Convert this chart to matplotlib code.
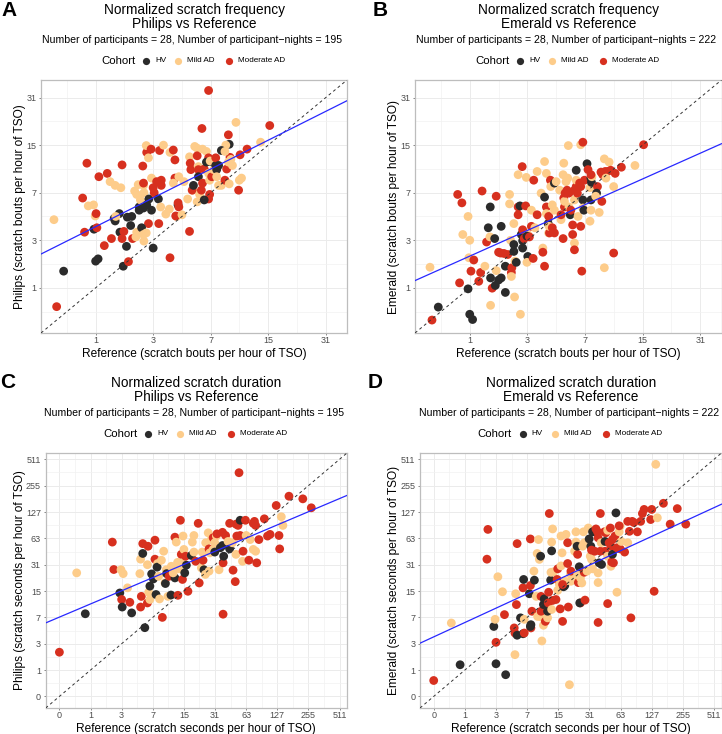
import numpy as np
import matplotlib
matplotlib.use("Agg")
import matplotlib.pyplot as plt
from matplotlib.lines import Line2D

plt.rcParams['font.family'] = ['Liberation Sans', 'DejaVu Sans']

W, H = 722, 734

# cohort codes: H = HV, M = Mild AD, R = Moderate AD
cohort_labels = {'H': 'HV', 'M': 'Mild AD', 'R': 'Moderate AD'}
cohort_colors = {'H': '#2b2b2b', 'M': '#fdcc8a', 'R': '#d7301f'}

# ---- A: scratch bouts per hour, Philips vs Reference ----
a_ref = [6.8, 9.85, 15.3, 6.2, 8.9, 13.6, 9.0, 8.6, 11.4, 8.1,
         9.1, 10.4, 9.2, 0.21, 0.25, 0.36, 0.71, 0.80, 0.83, 0.95,
         0.99, 1.01, 0.75, 0.96, 1.03, 1.0, 1.06, 1.08, 1.22, 1.30,
         1.38, 1.53, 1.71, 1.75, 1.5, 1.53, 1.66, 1.68, 1.42, 1.55,
         1.79, 1.97, 1.9, 1.81, 1.75, 1.93, 2.05, 2.09, 2.12, 2.25,
         2.28, 2.28, 2.34, 2.2, 2.38, 2.38, 2.43, 2.58, 2.56, 2.56,
         2.53, 2.7, 2.68, 2.78, 2.9, 2.78, 2.48, 2.56, 2.7, 2.8,
         2.92, 2.56, 2.68, 2.58, 3.0, 2.92, 3.0, 3.05, 3.17, 3.32,
         3.53, 3.26, 3.28, 3.38, 3.41, 3.41, 3.66, 3.86, 3.9, 3.9,
         4.1, 4.2, 4.2, 4.1, 4.3, 4.25, 4.4, 4.45, 4.4, 4.45,
         4.66, 4.8, 5.06, 5.2, 5.2, 5.25, 5.3, 5.45, 5.4, 5.5,
         5.6, 5.8, 5.8, 5.9, 5.9, 5.8, 6.0, 6.15, 5.9, 6.25,
         6.25, 6.4, 6.6, 6.8, 6.6, 6.8, 6.9, 6.9, 6.8, 6.4,
         7.0, 6.95, 7.1, 7.3, 7.5, 7.6, 7.6, 7.8, 8.1, 7.5,
         8.5, 8.5, 8.7, 8.9, 9.0, 10.3, 10.6, 10.2, 9.4, 7.8]
a_dev = [34.5, 21.3, 20.3, 19.4, 17.6, 15.7, 15.2, 15.0, 14.1, 13.8,
         12.4, 12.9, 12.0, 4.4, 0.52, 1.55, 6.4, 11.3, 5.6, 5.7,
         4.7, 4.9, 3.5, 3.7, 3.8, 1.95, 2.05, 9.1, 2.7, 9.6,
         8.4, 7.9, 7.6, 11.0, 4.5, 4.3, 4.9, 3.5, 3.1, 4.66,
         1.74, 1.93, 2.66, 3.55, 3.1, 4.6, 3.96, 4.66, 3.1, 3.2,
         3.5, 6.8, 8.0, 7.2, 5.5, 5.2, 6.2, 7.0, 7.9, 8.2,
         10.8, 13.4, 14.9, 12.3, 14.1, 4.1, 3.8, 5.4, 5.7, 6.3,
         5.2, 3.35, 3.45, 2.95, 2.57, 8.9, 7.6, 7.0, 8.4, 13.8,
         15.0, 6.3, 4.1, 5.5, 7.9, 8.6, 4.86, 5.3, 13.4, 2.1,
         13.9, 11.9, 8.9, 8.2, 4.66, 4.7, 5.7, 9.1, 5.9, 5.5,
         4.8, 8.4, 6.3, 3.55, 12.5, 11.3, 10.2, 7.3, 7.3, 7.9,
         14.7, 14.3, 12.7, 10.7, 10.2, 6.0, 6.8, 7.3, 9.1, 8.2,
         14.1, 10.3, 13.6, 12.3, 11.5, 9.6, 8.6, 6.8, 6.3, 6.2,
         11.6, 11.7, 9.1, 10.2, 10.9, 10.2, 9.1, 7.9, 7.9, 12.3,
         13.6, 8.6, 10.3, 11.5, 8.1, 8.6, 8.9, 7.3, 10.9, 10.9]
a_cohort = list("RMRRRMHMRH" "RRMMRHRRMM" "MRRHRHHRRR" "MMMRHHHHRM" "HRHRRHHHRM"
                "MMMMHHMMMR" "RRMMRRHHHH" "HMMMHMRRRR" "MHRMRRMMMR" "RRRMMRHMRR"
                "MMMRMRRMRH" "MMRMRMMRHR" "MRMRHMMRRH" "HMRMHHMMMR" "MRRMMMMRMH")

# ---- B: scratch bouts per hour, Emerald vs Reference ----
b_ref = [0.27, 0.37, 0.24, 0.84, 1.0, 0.96, 0.73, 0.82, 0.77, 0.96,
         1.0, 1.07, 1.03, 0.98, 1.1, 1.32, 1.23, 1.28, 1.4, 1.45,
         1.55, 1.56, 1.5, 1.57, 1.62, 1.57, 1.7, 1.72, 1.75, 1.83,
         1.75, 1.83, 1.92, 1.92, 1.9, 2.02, 2.07, 2.07, 2.16, 2.3,
         2.23, 2.23, 2.27, 2.3, 2.32, 2.4, 2.4, 2.4, 2.43, 2.45,
         2.5, 2.58, 2.58, 2.58, 2.76, 2.66, 2.72, 2.68, 2.78, 2.78,
         2.78, 2.85, 2.95, 3.02, 2.98, 3.02, 2.92, 2.98, 3.2, 3.2,
         3.1, 3.29, 3.38, 3.32, 3.5, 3.5, 3.72, 3.82, 3.82, 3.92,
         4.03, 3.92, 3.92, 4.03, 4.03, 4.14, 4.17, 4.17, 4.22, 4.28,
         4.2, 4.3, 4.4, 4.54, 4.4, 4.54, 4.54, 4.66, 4.9, 5.0,
         5.0, 5.15, 5.2, 5.15, 5.2, 5.25, 5.25, 5.3, 5.37, 5.45,
         5.5, 5.55, 5.6, 5.6, 5.7, 5.75, 5.9, 5.9, 6.05, 6.05,
         6.05, 6.05, 6.2, 6.2, 6.2, 6.3, 6.36, 6.36, 6.5, 6.6,
         6.6, 6.6, 6.8, 6.7, 6.8, 6.8, 6.9, 6.95, 7.2, 7.3,
         7.5, 7.6, 7.65, 7.6, 7.7, 7.6, 7.6, 7.5, 8.3, 8.2,
         8.1, 8.5, 8.7, 8.8, 8.9, 9.1, 9.1, 9.2, 9.5, 9.3,
         9.7, 9.9, 10.3, 10.3, 10.5, 11.4, 13.6, 15.2]
b_dev = [0.25, 0.51, 1.7, 3.35, 3.0, 4.66, 6.8, 5.9, 1.15, 0.97,
         0.36, 0.26, 1.55, 2.1, 2.0, 7.2, 1.2, 1.5, 1.74, 2.9,
         3.2, 5.5, 3.8, 1.31, 0.99, 0.55, 3.1, 1.07, 6.6, 2.36,
         1.57, 1.24, 1.31, 3.9, 2.32, 2.3, 0.87, 1.74, 2.25, 1.5,
         6.8, 5.8, 3.0, 1.36, 1.68, 4.1, 2.76, 2.4, 0.75, 1.95,
         1.9, 4.8, 5.5, 9.4, 10.7, 5.6, 3.35, 0.36, 2.97, 2.57,
         3.66, 3.1, 9.0, 3.35, 3.25, 2.16, 5.6, 1.9, 5.2, 3.9,
         3.2, 2.07, 3.8, 8.6, 9.9, 4.8, 6.95, 2.57, 2.36, 11.6,
         9.6, 1.74, 6.5, 5.5, 4.9, 4.1, 4.66, 3.45, 3.45, 8.6,
         3.9, 7.75, 5.7, 5.2, 3.8, 3.45, 8.2, 8.4, 7.3, 4.4,
         4.8, 9.4, 11.3, 3.1, 6.4, 5.5, 6.05, 6.95, 8.4, 7.3,
         8.9, 14.9, 6.95, 5.5, 4.8, 5.2, 4.0, 3.35, 2.84, 2.48,
         6.2, 7.3, 7.75, 8.6, 10.1, 6.95, 4.66, 7.6, 8.2, 7.75,
         3.9, 15.1, 15.7, 1.55, 6.2, 5.4, 5.2, 8.6, 11.2, 10.2,
         7.6, 8.9, 8.3, 5.2, 9.1, 6.2, 9.4, 4.28, 7.75, 6.95,
         6.6, 5.0, 9.8, 6.05, 9.4, 1.68, 12.1, 9.9, 9.9, 8.9,
         11.5, 10.1, 2.32, 7.75, 9.6, 10.6, 10.9, 15.1]
b_cohort = list("RHMMMMRRRH" "HHRMRRRRMR" "MHHHRMHHRR" "MHHHRRHHRR" "MMMMRMHHMM"
                "HRRMRHHMHH" "RRMMHHRMMR" "RRMRMRMMRM" "MRHRMHRMRR" "MMMMRRHMMM"
                "RMMRRRMRMR" "MMRMHRRRMR" "MRRMHRMRRR" "RMRRHMHRHR" "MHHMMHRMRH"
                "MMRRRMMRRM" "MRRMRRMR")

# ---- C: scratch seconds per hour, Philips vs Reference ----
c_ref = [0, 0.47, 0.78, 2.25, 2.36, 2.84, 2.94, 3.14, 3.0, 3.05,
         3.56, 3.8, 4.0, 5.1, 5.0, 5.4, 5.4, 5.2, 5.1, 5.7,
         6.1, 6.2, 6.1, 6.3, 6.5, 6.5, 6.8, 7.1, 7.4, 7.4,
         7.6, 7.9, 7.8, 8.1, 8.3, 8.9, 8.7, 9.2, 9.5, 9.6,
         9.8, 9.9, 10.2, 10.5, 11.1, 11.0, 12.1, 11.6, 12.1, 12.5,
         12.9, 13.0, 13.4, 13.8, 14.1, 14.7, 14.7, 14.5, 15.0, 15.3,
         15.9, 15.6, 16.5, 18.3, 19.0, 17.9, 19.0, 19.8, 21.0, 21.5,
         22.6, 23.1, 23.5, 24.0, 24.8, 25.0, 26.5, 27.0, 27.0, 27.5,
         28.5, 29.7, 29.7, 30.8, 30.8, 32.0, 32.4, 34.0, 35.0, 36.8,
         36.8, 37.3, 37.8, 37.3, 39.5, 41.8, 43.3, 43.3, 46.0, 46.8,
         49.2, 50.0, 50.0, 51.0, 52.4, 55.0, 53.6, 55.0, 58.7, 58.0,
         62.0, 63.0, 69.0, 67.0, 74.0, 78.0, 74.0, 76.0, 78.0, 80.0,
         84.0, 95.0, 102.0, 108.0, 124.0, 132.0, 134.0, 139.0, 144.0, 165.0,
         225.0, 272.0]
c_dev = [2.2, 24.8, 7.8, 57, 27.2, 14.2, 27, 24.3, 11.8, 9.5,
         16.4, 10.9, 8.0, 36, 24.3, 42, 54.7, 12.9, 9.5, 5.1,
         10.7, 51, 31, 14.5, 17.2, 11.8, 24.1, 21, 60, 36,
         13.6, 32, 29, 22.6, 12, 7.0, 35, 44.6, 18.8, 18.5,
         27, 24.3, 12.9, 22.6, 29.7, 13.4, 21.6, 24.8, 65, 57,
         33, 13.3, 27.7, 102, 41, 67, 32.6, 20.7, 46.8, 24.8,
         30.6, 39, 14.9, 57, 68, 39.8, 43.6, 34, 94, 18.8,
         28.4, 43.6, 35, 27, 23.8, 56, 73, 26, 47.5, 42.7,
         61, 46.8, 64, 56, 43.6, 67, 71, 27, 49, 52,
         74, 32.6, 39, 7.7, 68, 58, 94, 47.5, 56, 26.7,
         19.5, 41, 92, 67, 89, 102, 359, 68, 44.6, 34,
         102, 68, 61, 35, 46.8, 44.6, 94, 99, 89, 32.6,
         61, 106, 67, 70, 151, 68, 47.5, 112, 89, 193,
         180, 142]
c_cohort = list("RMHRRHMMRH" "MRHMMHRRRH" "RRMMHMHHRR" "HMHMMRMMMH" "MHMRMHHMRM"
                "MRMRRMMRMH" "HRRMMHMRRR" "MMRHMMMMRM" "MMRMHMRMHH" "RRHRRMRHMR"
                "RMRRRHRRRM" "RMMRMMRRRR" "RRRRRRRMMR" "RR")

# ---- D: scratch seconds per hour, Emerald vs Reference ----
d_ref = [0, 0.48, 0.8, 2.34, 2.27, 2.81, 2.92, 3.0, 3.0, 3.17,
         3.62, 3.83, 3.96, 5.1, 5.0, 5.1, 5.4, 5.3, 5.2, 5.4,
         6.3, 6.4, 5.9, 6.3, 6.5, 6.5, 7.4, 7.6, 7.6, 7.7,
         7.6, 7.7, 7.9, 8.3, 8.4, 8.8, 9.0, 9.1, 9.3, 9.5,
         9.8, 9.9, 9.9, 9.9, 10.5, 10.5, 10.7, 10.1, 11.0, 11.6,
         11.6, 11.9, 11.8, 12.5, 12.1, 12.8, 13.1, 12.8, 12.6, 12.8,
         13.1, 13.4, 14.2, 14.6, 14.8, 15.4, 15.7, 14.8, 16.0, 16.4,
         16.0, 17.0, 17.5, 17.6, 16.6, 16.6, 18.0, 18.7, 18.7, 19.0,
         19.5, 20.0, 20.2, 20.2, 22.7, 22.7, 22.0, 22.2, 23.6, 23.6,
         23.3, 24.0, 25.2, 25.2, 24.5, 24.8, 26.0, 26.5, 27.0, 27.5,
         27.5, 29.3, 28.0, 30.8, 30.2, 31.6, 32.0, 33.3, 32.5, 33.3,
         32.5, 34.5, 36.0, 35.0, 37.3, 37.8, 38.7, 39.8, 37.8, 37.8,
         37.8, 39.8, 40.5, 40.9, 43.7, 44.3, 44.3, 45.0, 47.0, 47.0,
         47.0, 48.6, 50.0, 50.6, 50.6, 51.5, 52.4, 52.4, 56.7, 55.5,
         53.6, 58.0, 58.0, 61.0, 62.4, 62.4, 61.0, 64.0, 69.0, 74.0,
         77.0, 74.0, 79.5, 82.0, 85.0, 92.0, 99.0, 103.0, 107.0, 127.0,
         124.0, 134.0, 139.0, 144.0, 165.0, 192.0, 225.0, 272.0]
d_dev = [0.52, 5.9, 1.3, 80, 36, 5.3, 6.6, 3.15, 1.36, 22.3,
         14.7, 7.6, 0.77, 2.0, 5.06, 4.3, 4.0, 10.2, 13.9, 54.7,
         16.4, 20.7, 6.9, 4.2, 4.3, 6.6, 13.9, 17.5, 62, 5.06,
         5.3, 5.6, 8.4, 26, 20.3, 12.9, 42, 7.2, 61, 35.8,
         39, 12.9, 7.1, 8.4, 10.2, 5.5, 12, 3.3, 6.2, 6.9,
         8.4, 14.5, 10.7, 20.3, 122, 57, 81, 45, 25.2, 8.85,
         11.5, 25.5, 11.8, 20.7, 15.3, 18, 9.0, 27.7, 67, 42.7,
         30, 16.9, 17.5, 19.7, 6.2, 18, 70, 56, 32, 9.5,
         0.36, 23.8, 19.7, 26, 75, 57, 44.6, 20.7, 23.8, 41,
         51, 19, 21.6, 10.7, 29.3, 10.7, 18.8, 51, 75, 56,
         25.2, 26, 11.6, 62, 83, 39, 51, 75, 35.8, 27.7,
         46, 76, 81, 44.6, 75, 24.8, 32.6, 122, 64, 6.0,
         19, 44.6, 56, 31.2, 75, 44.6, 58, 73, 78, 39,
         10.5, 56, 83, 51, 29.7, 33.3, 41, 61, 124, 67,
         32.6, 14.5, 49, 75, 87, 47.5, 88, 58, 43.6, 99,
         76, 56, 6.9, 99, 96, 75, 99, 122, 136, 136,
         104, 14.9, 448, 109, 160, 92, 139, 92]
d_cohort = list("RMHRRHMRHM" "MRHMRRHRMR" "RHHHRMHRRR" "HHRMHMMMMM" "HRMRHMHMRM"
                "HRRHRMMHMM" "RMRRMMRRMM" "MHHMRRMRRR" "MMMRMMMMMR" "HRMRHHMMMM"
                "RMRHMMHHMM" "RHRRRMHRRR" "MRMHRRHRMM" "RRRRMRHRHR" "RMRMMRRMRR"
                "RMRRRRRRRR" "RRMMRRRR")

# fitted lines in log2(x + 1) space: intercept, slope
fit_a = (1.68, 0.606)
fit_b = (1.125, 0.541)
fit_c = (3.01, 0.50)
fit_d = (2.26, 0.545)

freq_ticks = [1, 3, 7, 15, 31]
dur_ticks = [0, 1, 3, 7, 15, 31, 63, 127, 255, 511]


def fwd(v):
    return np.log2(np.clip(np.asarray(v, dtype=float) + 1, 1e-9, None))


def inv(u):
    return np.power(2.0, np.asarray(u, dtype=float)) - 1


fig = plt.figure(figsize=(W / 100, H / 100), dpi=100)


def fx(x):
    return x / W


def fy(y):
    return 1 - y / H


def draw_panel(rect_px, ref, dev, cohort, fit, lim_u, ticks, letter, letter_x,
               line1, line2, nights, xlab, ylab):
    left, top, right, bottom = rect_px
    ax = fig.add_axes([fx(left), fy(bottom), (right - left) / W, (bottom - top) / H])
    ax.set_xscale('function', functions=(fwd, inv))
    ax.set_yscale('function', functions=(fwd, inv))
    lo, hi = inv(lim_u[0]), inv(lim_u[1])
    ax.set_xlim(lo, hi)
    ax.set_ylim(lo, hi)

    minor = inv(np.arange(0.5, lim_u[1], 1.0))
    for setter in (ax.set_xticks, ax.set_yticks):
        setter(ticks)
        setter(minor, minor=True)
    ax.set_xticklabels([str(t) for t in ticks])
    ax.set_yticklabels([str(t) for t in ticks])
    ax.grid(True, which='major', color='#ebebeb', lw=0.7, zorder=0)
    ax.grid(True, which='minor', color='#f2f2f2', lw=0.5, zorder=0)
    ax.set_axisbelow(True)
    ax.tick_params(which='major', length=1.6, width=0.5, color='#555555',
                   labelsize=6.5, labelcolor='#4d4d4d')
    ax.tick_params(axis='x', which='major', pad=0.6)
    ax.tick_params(axis='y', which='major', pad=1.8)
    ax.tick_params(which='minor', length=0)
    for s in ax.spines.values():
        s.set_color('#bdbdbd')
        s.set_linewidth(0.9)

    cols = [cohort_colors[c] for c in cohort]
    ax.scatter(ref, dev, c=cols, s=40, linewidths=0, zorder=3)

    ax.plot([lo, hi], [lo, hi], ls=(0, (3, 3)), color='#333333', lw=0.7, zorder=4)
    a, b = fit
    ax.plot([lo, hi], inv(a + b * fwd([lo, hi])), color='#2828ff', lw=0.9, zorder=5)

    ax.set_xlabel(xlab, fontsize=8.6, labelpad=1.8)
    ax.set_ylabel(ylab, fontsize=8.6, labelpad=0.2)

    cx = (left + right) / 2
    fig.text(fx(letter_x), fy(top - 70), letter, fontsize=15, fontweight='bold',
             ha='center', va='center')
    fig.text(fx(cx), fy(top - 70), line1, fontsize=9.8, ha='center', va='center')
    fig.text(fx(cx), fy(top - 56), line2, fontsize=9.8, ha='center', va='center')
    fig.text(fx(cx - 2), fy(top - 40),
             f"Number of participants = 28, Number of participant\u2212nights = {nights}",
             fontsize=7.6, ha='center', va='center')

    ly = top - 19
    fig.text(fx(cx - 93), fy(ly), "Cohort", fontsize=8.2, ha='left', va='center')
    for key, dx in (('H', -48), ('M', -16), ('R', 35)):
        fig.add_artist(Line2D([fx(cx + dx)], [fy(ly)], marker='o', ms=5.2, mew=0,
                              color=cohort_colors[key], transform=fig.transFigure))
        fig.text(fx(cx + dx + 9), fy(ly), cohort_labels[key], fontsize=5.9,
                 ha='left', va='center')
    return ax


draw_panel((41, 80, 347, 333), a_ref, a_dev, a_cohort, fit_a, (0.05, 5.37), freq_ticks,
           "A", 9, "Normalized scratch frequency", "Philips vs Reference", 195,
           "Reference (scratch bouts per hour of TSO)",
           "Philips (scratch bouts per hour of TSO)")
draw_panel((415, 80, 721.5, 333), b_ref, b_dev, b_cohort, fit_b, (0.05, 5.37), freq_ticks,
           "B", 380, "Normalized scratch frequency", "Emerald vs Reference", 222,
           "Reference (scratch bouts per hour of TSO)",
           "Emerald (scratch bouts per hour of TSO)")
draw_panel((45.7, 453, 347, 708), c_ref, c_dev, c_cohort, fit_c, (-0.44, 9.24), dur_ticks,
           "C", 8, "Normalized scratch duration", "Philips vs Reference", 195,
           "Reference (scratch seconds per hour of TSO)",
           "Philips (scratch seconds per hour of TSO)")
draw_panel((420, 453, 721.5, 708), d_ref, d_dev, d_cohort, fit_d, (-0.44, 9.24), dur_ticks,
           "D", 375, "Normalized scratch duration", "Emerald vs Reference", 222,
           "Reference (scratch seconds per hour of TSO)",
           "Emerald (scratch seconds per hour of TSO)")

fig.savefig("out.png", dpi=100)
